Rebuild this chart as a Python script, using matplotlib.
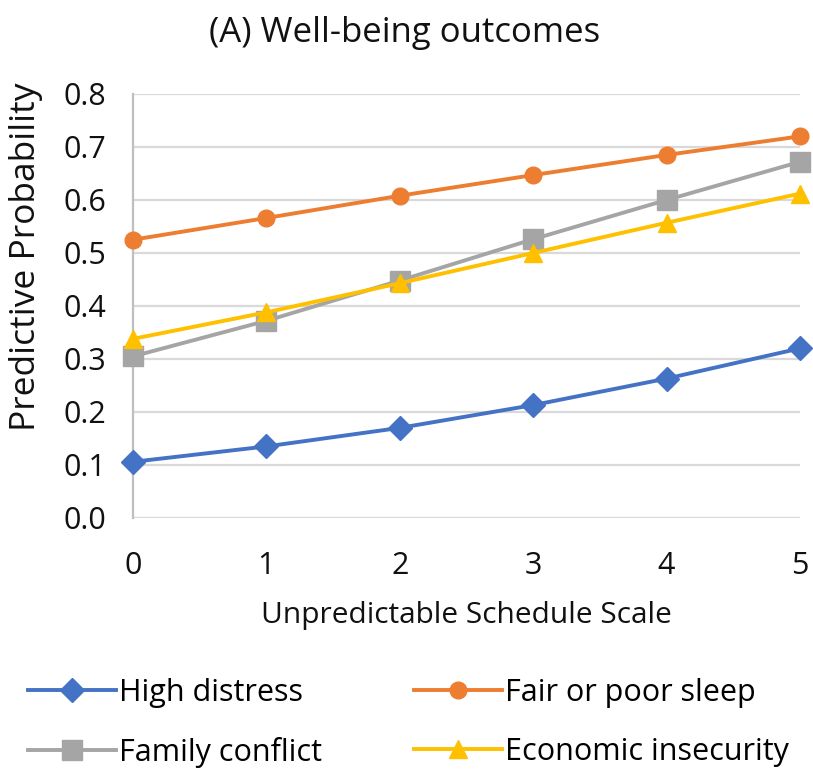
import matplotlib
matplotlib.use("Agg")
import matplotlib.pyplot as plt

plt.rcParams['font.family'] = ['Open Sans', 'DejaVu Sans']

x_values = [0, 1, 2, 3, 4, 5]
x_ticks = [0, 1, 2, 3, 4, 5]
y_ticks = [0.0, 0.1, 0.2, 0.3, 0.4, 0.5, 0.6, 0.7, 0.8]

high_distress = [0.106, 0.135, 0.170, 0.213, 0.263, 0.320]
poor_sleep = [0.525, 0.566, 0.608, 0.647, 0.685, 0.720]
family_conflict = [0.305, 0.372, 0.448, 0.526, 0.600, 0.672]
economic_insecurity = [0.338, 0.388, 0.443, 0.500, 0.557, 0.612]

fig = plt.figure(figsize=(8.13, 7.76), dpi=100)
ax = fig.add_axes([0.1636, 0.3325, 0.8204, 0.5464])

lw = 2.8
l1, = ax.plot(x_values, high_distress, color='#4472C4', lw=lw, marker='D', ms=12,
              label='High distress', clip_on=False, zorder=5)
l2, = ax.plot(x_values, poor_sleep, color='#ED7D31', lw=lw, marker='o', ms=12,
              label='Fair or poor sleep', clip_on=False, zorder=5)
l3, = ax.plot(x_values, family_conflict, color='#A5A5A5', lw=lw, marker='s', ms=15,
              label='Family conflict', clip_on=False, zorder=5)
l4, = ax.plot(x_values, economic_insecurity, color='#FFC000', lw=lw, marker='^', ms=13,
              label='Economic insecurity', clip_on=False, zorder=6)

ax.set_xlim(0, 5)
ax.set_ylim(0, 0.8)
ax.set_xticks(x_ticks)
ax.set_yticks(y_ticks)
ax.set_yticklabels([f"{v:.1f}" for v in y_ticks])
ax.tick_params(axis='both', length=0, labelsize=22, colors='#111111')
ax.tick_params(axis='x', pad=24)
ax.tick_params(axis='y', pad=19)
ax.grid(axis='y', color='#D9D9D9', lw=1.6)
ax.set_axisbelow(True)
for s in ['top', 'right', 'bottom']:
    ax.spines[s].set_visible(False)
ax.spines['left'].set_color('#BFBFBF')
ax.spines['left'].set_linewidth(1.6)

ax.set_xlabel('Unpredictable Schedule Scale', fontsize=21.5, labelpad=14, color='#111111')
ax.set_ylabel('Predictive Probability', fontsize=25.5, color='#111111')
ax.yaxis.set_label_coords(-0.135, 0.616)

fig.text(0.498, 0.946, '(A) Well-being outcomes', fontsize=25, ha='center', va='baseline',
         color='#111111')

leg = fig.legend(handles=[l1, l3, l2, l4], loc='upper left', ncol=2,
                 bbox_to_anchor=(0.0, 0.162), frameon=False, fontsize=22,
                 handlelength=2.9, handletextpad=0.1, columnspacing=3.0,
                 labelspacing=0.95, markerscale=1.0)

fig.savefig('out.png', dpi=100)
